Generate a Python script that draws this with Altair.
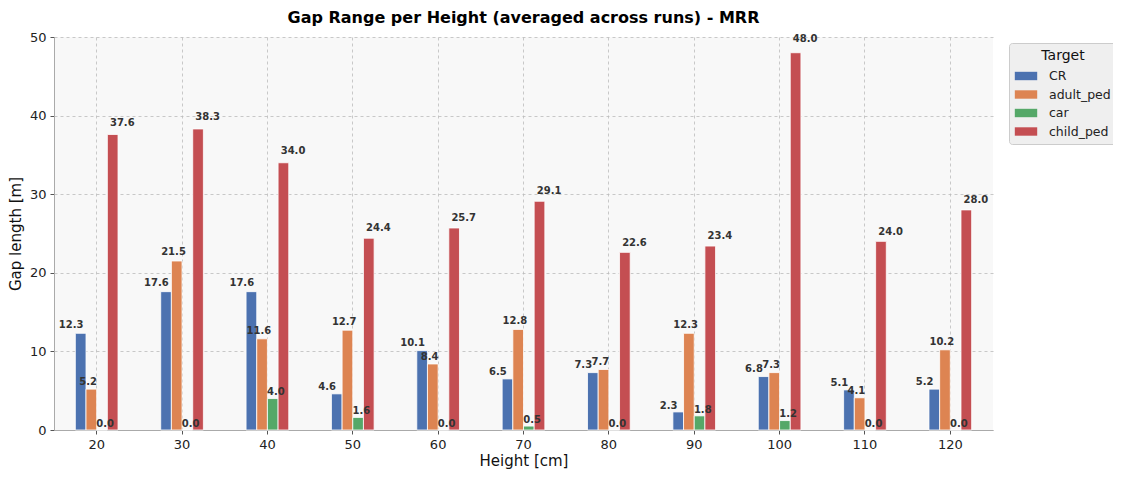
import altair as alt
import pandas as pd

heights = [20, 30, 40, 50, 60, 70, 80, 90, 100, 110, 120]
targets = ["CR", "adult_ped", "car", "child_ped"]
cr = [12.3, 17.6, 17.6, 4.6, 10.1, 6.5, 7.3, 2.3, 6.8, 5.1, 5.2]
adult_ped = [5.2, 21.5, 11.6, 12.7, 8.4, 12.8, 7.7, 12.3, 7.3, 4.1, 10.2]
car = [0.0, 0.0, 4.0, 1.6, 0.0, 0.5, 0.0, 1.8, 1.2, 0.0, 0.0]
child_ped = [37.6, 38.3, 34.0, 24.4, 25.7, 29.1, 22.6, 23.4, 48.0, 24.0, 28.0]
colors = ["#4C72B0", "#DD8452", "#55A868", "#C44E52"]

series = {"CR": cr, "adult_ped": adult_ped, "car": car, "child_ped": child_ped}
rows = []
for t in targets:
    for h, v in zip(heights, series[t]):
        rows.append({"height": h, "target": t, "value": v, "label": f"{v:.1f}"})
df = pd.DataFrame(rows)

FONT = "DejaVu Sans"
W = 939
H = 393
band = W / len(heights)

x = alt.X("height:O", sort=heights,
          scale=alt.Scale(paddingInner=0, paddingOuter=0),
          axis=alt.Axis(title="Height [cm]", labelAngle=0))
yscale = alt.Scale(domain=[0, 50], nice=False)
y = alt.Y("value:Q", scale=yscale,
          axis=alt.Axis(title="Gap length [m]", values=[0, 10, 20, 30, 40, 50]))

bars = alt.Chart(df).mark_bar(stroke="white", strokeWidth=0.8).encode(
    x=x,
    xOffset=alt.XOffset("target:N", sort=targets,
                        scale=alt.Scale(paddingInner=0, paddingOuter=0,
                                        range=[band * 0.25, band * 0.75])),
    y=y,
    color=alt.Color("target:N", sort=targets,
                    scale=alt.Scale(domain=targets, range=colors),
                    legend=alt.Legend(title="Target", orient="none",
                                      legendX=955, legendY=6)),
)

labels = alt.Chart(df).transform_calculate(
    ypos="datum.value * 1.02"
).mark_text(
    baseline="alphabetic", dy=-3, fontSize=10, fontWeight="bold", color="#333333", font=FONT
).encode(
    x=x,
    xOffset=alt.XOffset("target:N", sort=targets,
                        scale=alt.Scale(type="point", padding=0,
                                        range=[band * 0.2, band * 0.8])),
    y=alt.Y("ypos:Q", scale=yscale),
    text="label:N",
)

chart = (
    alt.layer(bars, labels)
    .resolve_scale(xOffset="independent")
    .properties(
        width=W,
        height=H,
        title=alt.TitleParams("Gap Range per Height (averaged across runs) - MRR",
                              fontSize=16, fontWeight="bold", font=FONT,
                              color="#000000", offset=5, anchor="middle"),
        autosize=alt.AutoSizeParams(type="none"),
        padding={"left": 46, "top": 29, "right": 120, "bottom": 50},
    )
    .configure_view(fill="#f8f8f8", stroke=None)
    .configure_axis(
        labelFont=FONT, titleFont=FONT, labelFontSize=13, titleFontSize=15,
        labelColor="#222222", titleColor="#111111", titleFontWeight="normal",
        grid=True, gridColor="#bbbbbb", gridDash=[3, 3], gridWidth=0.8,
        domainColor="#aaaaaa", tickColor="#555555", tickSize=4,
        labelPadding=4,
    )
    .configure_axisX(titlePadding=2)
    .configure_axisY(titlePadding=6)
    .configure_legend(
        titleFont=FONT, labelFont=FONT, titleFontSize=14, labelFontSize=12.5,
        titleFontWeight="normal", titleColor="#111111", labelColor="#222222",
        titleAlign="center", titleAnchor="middle", titlePadding=6,
        fillColor="#efefef", strokeColor="#cccccc", cornerRadius=3,
        padding=6, rowPadding=4.5, labelOffset=16,
        symbolType="M-1.6,-0.6L1.6,-0.6L1.6,0.6L-1.6,0.6Z", symbolSize=196,
        symbolStrokeWidth=0, symbolOpacity=1, symbolOffset=4,
    )
)

chart.save("out.html", embed_options={"renderer": "svg", "actions": False})
